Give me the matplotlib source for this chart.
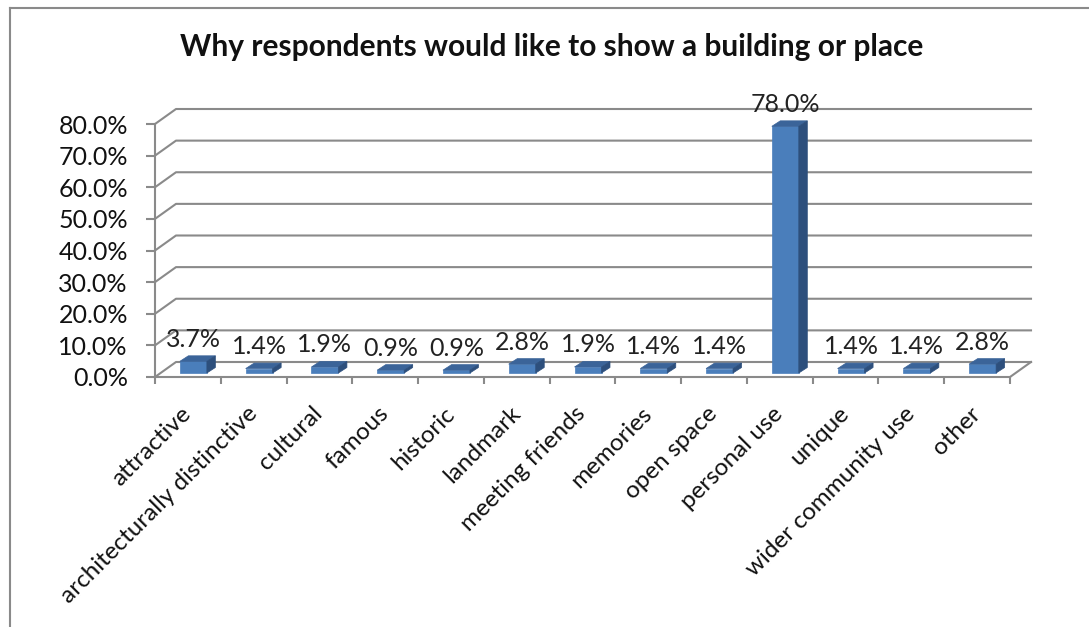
import numpy as np
import matplotlib
matplotlib.use("Agg")
from matplotlib import pyplot as plt
from matplotlib.patches import Polygon
from matplotlib.lines import Line2D

plt.rcParams['font.family'] = ['Lato', 'DejaVu Sans']

# data
categories = ['attractive', 'architecturally distinctive', 'cultural', 'famous',
              'historic', 'landmark', 'meeting friends', 'memories', 'open space',
              'personal use', 'unique', 'wider community use', 'other']
values = [3.7, 1.4, 1.9, 0.9, 0.9, 2.8, 1.9, 1.4, 1.4, 78.0, 1.4, 1.4, 2.8]
yticks = [0, 10, 20, 30, 40, 50, 60, 70, 80]

W, H = 1089, 627
fig = plt.figure(figsize=(W / 100, H / 100), dpi=100)
fig.patch.set_facecolor('white')

# front plane of the 3d box, in pixels
x0, x1 = 155, 1010
y_bot, y_top = 377, 124
ax = fig.add_axes([x0 / W, (H - y_bot) / H, (x1 - x0) / W, (y_bot - y_top) / H])
n = len(categories)
ax.set_xlim(-0.5, n - 0.5)
ax.set_ylim(0, 80)
ax.set_facecolor('none')

# pixel -> data conversions
px = n / (x1 - x0)
py = 80 / (y_bot - y_top)

grid_col = '#8a8a8a'
# back wall (depth offset)
wx, wy = 21 * px, 15 * py
for t in yticks:
    ax.plot([-0.5, -0.5 + wx, n - 0.5 + wx], [t, t + wy, t + wy],
            color=grid_col, lw=1.5, clip_on=False, zorder=1)
ax.plot([n - 0.5, n - 0.5 + wx], [0, wy], color=grid_col, lw=1.5,
        clip_on=False, zorder=1)

# bars (front face + top + side to fake the 3d look)
bw = 27 * px
bx, by = 5.5 * px, 4 * py
dx, dy = 8.5 * px, 5.5 * py
front_col = '#4a7ebb'
top_col = '#3b6499'
side_col = '#2d4f7c'
xs = np.arange(n) + bx
ax.bar(xs, values, width=bw, bottom=by, color=front_col, ec=front_col, lw=0.5,
       zorder=3, clip_on=False)
for x, v in zip(xs, values):
    l, r, t = x - bw / 2, x + bw / 2, by + v
    ax.add_patch(Polygon([(l, t), (r, t), (r + dx, t + dy), (l + dx, t + dy)],
                         closed=True, fc=top_col, ec=top_col, lw=0.5, zorder=3,
                         clip_on=False))
    ax.add_patch(Polygon([(r, by), (r + dx, by + dy), (r + dx, t + dy), (r, t)],
                         closed=True, fc=side_col, ec=side_col, lw=0.5, zorder=3,
                         clip_on=False))
    ax.annotate('%.1f%%' % v, (x, t), xytext=(0, 22), textcoords='offset pixels',
                ha='center', va='center', fontsize=18, color='#222222', zorder=4,
                annotation_clip=False)

# axes styling
for s in ['top', 'right']:
    ax.spines[s].set_visible(False)
for s in ['left', 'bottom']:
    ax.spines[s].set_color(grid_col)
    ax.spines[s].set_linewidth(1.5)

ax.set_yticks(yticks)
ax.set_yticklabels(['%.1f%%' % t for t in yticks], fontsize=18, color='#111111')
ax.tick_params(axis='y', length=6.5, width=1.5, color=grid_col, pad=13)

ax.set_xticks(np.arange(-0.5, n, 1.0))
ax.set_xticklabels([])
ax.tick_params(axis='x', which='major', length=5, width=1.5, color=grid_col)
ax.set_xticks(np.arange(n), minor=True)
ax.set_xticklabels(categories, minor=True, rotation=45, ha='right', va='center',
                   rotation_mode='anchor', fontsize=17.5, color='#111111')
ax.tick_params(axis='x', which='minor', length=0, pad=24)

fig.text(552 / W, 1 - 47 / H, 'Why respondents would like to show a building or place',
         ha='center', va='center', fontsize=21.5, fontweight='bold', color='#111111')

# outer chart border
fig.add_artist(Line2D([9.5 / W, 9.5 / W], [0, 1 - 8 / H], color='#8a8a8a', lw=1.5))
fig.add_artist(Line2D([9.5 / W, 1], [1 - 8 / H, 1 - 8 / H], color='#8a8a8a', lw=1.5))

plt.savefig('out.png', dpi=100)
